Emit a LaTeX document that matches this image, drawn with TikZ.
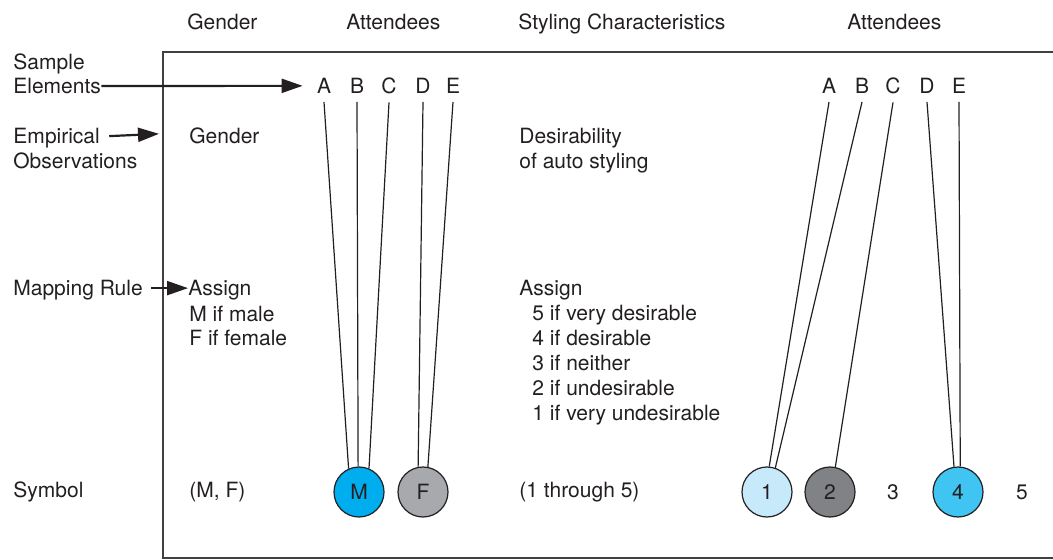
\documentclass[tikz,border=0pt]{standalone}
\usepackage{fontspec}
\setmainfont{TeX Gyre Heros}
\usetikzlibrary{arrows.meta}
\definecolor{ink}{HTML}{231F20}
\definecolor{frame}{HTML}{404041}
\definecolor{cyanM}{HTML}{00AEEF}
\definecolor{grayF}{HTML}{A7A9AC}
\definecolor{pale}{HTML}{C7EAFB}
\definecolor{dark}{HTML}{808285}
\definecolor{sky}{HTML}{40C4F2}
\begin{document}
\begin{tikzpicture}[x=0.5pt,y=-0.5pt,font=\fontsize{10.5}{12.5}\selectfont,text=ink,
  txt/.style={anchor=base west,inner sep=0pt},
  ltr/.style={anchor=base,inner sep=0pt,outer ysep=4.25pt},
  sym/.style={circle,draw=ink,line width=0.6pt,minimum size=25pt,inner sep=0pt},
  arr/.style={-{Triangle[length=10.5pt,width=7pt]},line width=1.1pt,draw=ink},
  stem/.style={line width=0.6pt,draw=ink}]
\useasboundingbox (0,0) rectangle (1053,560);
\draw[frame,line width=0.75pt] (1060,52) -| (163,558) -- (1060,558);
% column heads
\node[txt] at(187,30)(hG){Gender};
\node[txt] at(346,30)(hA){Attendees};
\node[txt] at(518,30)(hS){Styling Characteristics};
\node[txt] at(847,30)(hA'){Attendees};
% row labels
\node[txt] at(13,69.5)(smp){Sample};
\node[txt] at(13,93.5)(elm){Elements};
\node[txt] at(13,143.5)(emp){Empirical};
\node[txt] at(13,168.5)(obs){Observations};
\node[txt] at(13,295.5)(map){Mapping Rule};
\node[txt] at(13,497.5)(sym){Symbol};
% gender column
\node[txt] at(189,143.5)(gdr){Gender};
\node[txt] at(188,295.5)(asL){Assign};
\node[txt] at(189,321.5)(mal){M if male};
\node[txt] at(189,345.5)(fem){F if female};
\node[txt] at(189,497.5)(mf){(M, F)};
% styling column
\node[txt] at(519,143.5)(des){Desirability};
\node[txt] at(519,168.5)(aut){of auto styling};
\node[txt] at(519,295.5)(asR){Assign};
\foreach \i/\t in {1/5 if very desirable,2/4 if desirable,3/3 if neither,4/2 if undesirable,5/1 if very undesirable}
  \node[txt] at(532,295.5+25*\i)(r\i){\t};
\node[txt] at(519,497.5)(thr){(1 through 5)};
% attendees
\foreach \l/\x in {A/324,B/357,C/389,D/423,E/453}
  \node[ltr] at(\x,93.5)(l\l){\l};
\foreach \l/\x in {A/829,B/862,C/893,D/927,E/959}
  \node[ltr] at(\x,93.5)(r\l){\l};
% symbols
\node[sym,fill=cyanM] at(359,492)(cM){M};
\node[sym,fill=grayF] at(423,492)(cF){F};
\node[sym,fill=pale] at(767,492)(c1){1};
\node[sym,fill=dark] at(830,492)(c2){2};
\node[inner sep=0pt] at(893,492)(n3){3};
\node[sym,fill=sky] at(958,492)(c4){4};
\node[inner sep=0pt] at(1022,492)(n5){5};
% arrows
\draw[arr] (elm.east) -- ([xshift=-7pt]lA.west);
\draw[arr] ([xshift=4.5pt,yshift=1pt]emp.east) -- ([xshift=-15pt,yshift=1pt]gdr.west);
\draw[arr] ([xshift=4pt,yshift=1pt]map.east) -- ([yshift=1pt]asL.west);
% mappings
\path[stem] (lA.south)edge(cM.114) (lB.south)edge(cM.92) (lC.south)edge(cM.67)
            (lD.south)edge(cF.101) (lE.south)edge(cF.79);
\path[stem] (rA.south)edge(c1.85) (rB.south)edge(c1.71) (rC.south)edge(c2.78)
            (rD.south)edge(c4.99) (rE.south)edge(c4.85);
\end{tikzpicture}
\end{document}
